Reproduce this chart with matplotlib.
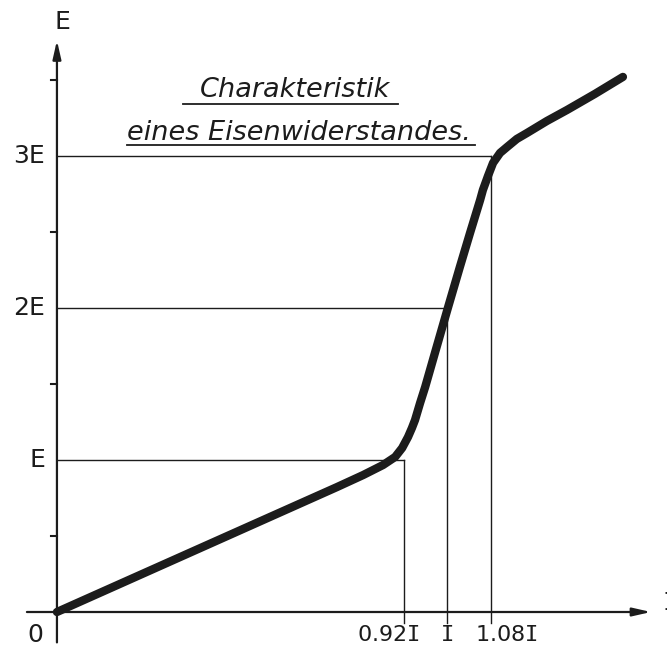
import numpy as np
import matplotlib.pyplot as plt

# Kennlinie eines Eisenwiderstandes (Strom I, Spannung E)
strom = [0.0, 0.718, 0.785, 0.836, 0.867, 0.885, 0.900, 0.910, 0.918, 0.931,
         0.944, 0.969, 1.003, 1.033, 1.059, 1.085, 1.092, 1.105, 1.118, 1.136,
         1.154, 1.179, 1.205, 1.256, 1.308, 1.379, 1.451]
spannung = [0.0, 0.822, 0.901, 0.967, 1.020, 1.079, 1.151, 1.210, 1.263, 1.375,
            1.480, 1.704, 2.007, 2.270, 2.493, 2.711, 2.776, 2.868, 2.954, 3.020,
            3.059, 3.112, 3.151, 3.230, 3.303, 3.408, 3.520]

# helper lines: tick position on the I axis and level on the E axis
x_ticks = [0.890, 1.0, 1.113]
x_labels = [r"0.92$\mathtt{I}$", r"$\mathtt{I}$", r"1.08$\mathtt{I}$"]
y_ticks = [1.0, 2.0, 3.0]
y_labels = ["E", "2E", "3E"]
y_minor = [0.5, 1.5, 2.5, 3.5]

ink = "#1c1c1c"

fig = plt.figure(figsize=(6.67, 6.57), dpi=100)
ax = fig.add_axes([0, 0, 1, 1])
ax.set_xlim(-0.146, 1.564)
ax.set_ylim(-0.296, 4.026)
ax.axis("off")

# axes with arrows
ax.annotate("", xy=(1.523, 0), xytext=(-0.077, 0),
            arrowprops=dict(arrowstyle="-|>,head_length=1.1,head_width=0.25",
                            color=ink, lw=1.6, shrinkA=0, shrinkB=0))
ax.annotate("", xy=(0, 3.76), xytext=(0, -0.2),
            arrowprops=dict(arrowstyle="-|>,head_length=1.1,head_width=0.25",
                            color=ink, lw=1.6, shrinkA=0, shrinkB=0))
ax.text(0.015, 3.88, "E", fontsize=18, color=ink, ha="center", va="center")
ax.text(1.552, 0.06, r"$\mathtt{I}$", fontsize=18, color=ink, ha="left", va="center")
ax.text(-0.055, -0.15, "0", fontsize=18, color=ink, ha="center", va="center")

for yv in y_minor:
    ax.plot([-0.016, 0], [yv, yv], color=ink, lw=1.5)

# helper lines
for xv, yv in zip(x_ticks, y_ticks):
    ax.plot([0, xv], [yv, yv], color=ink, lw=1.0)
    ax.plot([xv, xv], [-0.07, yv], color=ink, lw=1.0)
# labels sit a little apart from the lines, as in the drawing
label_dx = [-0.041, 0.0, 0.038]
for xv, dx, lab in zip(x_ticks, label_dx, x_labels):
    ax.text(xv + dx, -0.15, lab, fontsize=16, color=ink, ha="center", va="center")
for yv, lab in zip(y_ticks, y_labels):
    ax.text(-0.03, yv, lab, fontsize=18, color=ink, ha="right", va="center")

# characteristic curve
ax.plot(strom, spannung, color=ink, lw=6, solid_capstyle="round", solid_joinstyle="round")

# title
ax.text(0.61, 3.388, "Charakteristik", fontsize=19.5, style="italic", color=ink,
        ha="center", va="baseline")
ax.plot([0.323, 0.874], [3.345, 3.345], color=ink, lw=1.3)
ax.text(0.62, 3.105, "eines Eisenwiderstandes.", fontsize=19.5, style="italic", color=ink,
        ha="center", va="baseline")
ax.plot([0.18, 1.072], [3.07, 3.07], color=ink, lw=1.3)

plt.savefig("out.png", dpi=100)
